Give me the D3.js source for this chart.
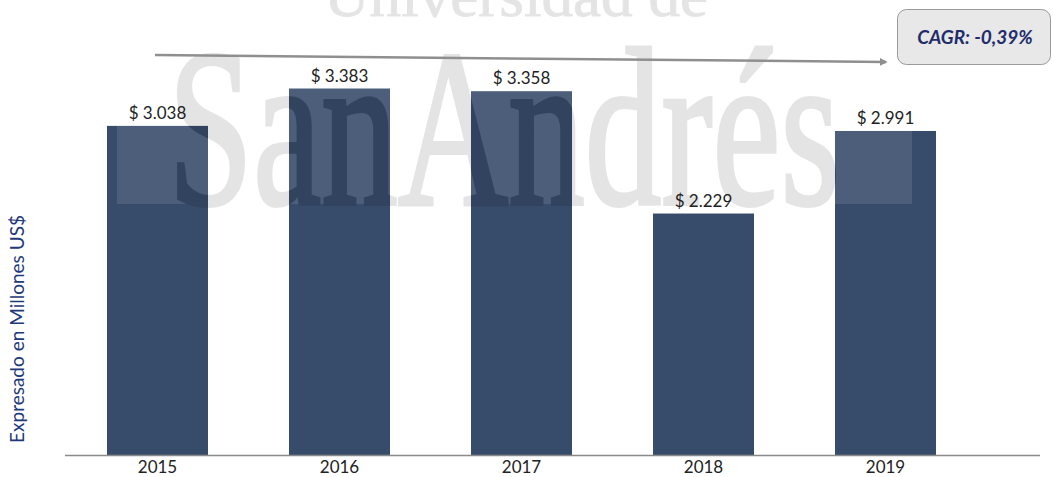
<!DOCTYPE html>
<html>
<head>
<meta charset="utf-8">
<script src="https://cdn.jsdelivr.net/npm/d3@7"></script>
<style>
    body { margin: 0; background: #fff; }
    svg { display: block; font-family: Lato, "Open Sans", sans-serif; }
</style>
</head>
<body>
<svg id="chart" width="1053" height="477"></svg>
<script>
// chart data
var years = ['2015', '2016', '2017', '2018', '2019'];
var values = [3038, 3383, 3358, 2229, 2991];
var valueLabels = ['$ 3.038', '$ 3.383', '$ 3.358', '$ 2.229', '$ 2.991'];
var cagrLabel = 'CAGR: -0,39%';
var yTitle = 'Expresado en Millones US$';

var svg = d3.select('#chart');
var baseY = 455;

var x = d3.scaleBand()
    .domain(years)
    .range([66.5, 976.5])
    .paddingInner(0.445)
    .paddingOuter(0.2225);

var y = d3.scaleLinear()
    .domain([0, 4200])
    .range([baseY, 0]);

var barColor = '#374c6b';
var defs = svg.append('defs');

// bars
svg.append('g').selectAll('rect')
    .data(values)
    .enter().append('rect')
    .attr('x', function (d, i) { return x(years[i]); })
    .attr('y', function (d) { return y(d); })
    .attr('width', x.bandwidth())
    .attr('height', function (d) { return baseY - y(d); })
    .attr('fill', barColor);

// watermark (lightening box with letters cut out, then faint letters)
function wmBig(sel) {
    sel.append('text')
        .attr('x', 168).attr('y', 204)
        .attr('font-family', '"Liberation Serif", serif')
        .attr('font-size', 225)
        .attr('textLength', 672)
        .attr('lengthAdjust', 'spacingAndGlyphs')
        .attr('stroke-width', 4)
        .text('SanAndrés');
}
var mask = defs.append('mask').attr('id', 'wm-mask');
mask.append('rect').attr('x', 0).attr('y', 0).attr('width', 1053).attr('height', 477).attr('fill', '#fff');
wmBig(mask.append('g').attr('fill', '#000').attr('stroke', '#000'));

svg.append('rect')
    .attr('x', 117).attr('y', 0)
    .attr('width', 795).attr('height', 204)
    .attr('fill', '#fff')
    .attr('opacity', 0.1)
    .attr('mask', 'url(#wm-mask)');

var wm = svg.append('g')
    .attr('font-family', '"Liberation Serif", serif')
    .attr('fill', '#000')
    .attr('stroke', '#000')
    .attr('opacity', 0.1);
wm.append('text')
    .attr('x', 324).attr('y', 16)
    .attr('font-size', 62)
    .attr('textLength', 384)
    .attr('lengthAdjust', 'spacingAndGlyphs')
    .attr('stroke-width', 1)
    .text('Universidad de');
wmBig(wm);

// value labels
svg.append('g').selectAll('text')
    .data(values)
    .enter().append('text')
    .attr('x', function (d, i) { return x(years[i]) + x.bandwidth() / 2; })
    .attr('y', function (d) { return y(d) - 7; })
    .attr('text-anchor', 'middle')
    .attr('font-size', 17)
    .attr('fill', '#222')
    .text(function (d, i) { return valueLabels[i]; });

// x axis
var xAxis = svg.append('g')
    .attr('transform', 'translate(0,' + baseY + ')')
    .call(d3.axisBottom(x).tickSize(0).tickPadding(6));
xAxis.select('.domain').remove();
xAxis.selectAll('text')
    .attr('font-size', 17)
    .attr('font-family', 'Lato, sans-serif')
    .attr('fill', '#222');
svg.append('line')
    .attr('x1', 65).attr('x2', 1040)
    .attr('y1', baseY + 0.5).attr('y2', baseY + 0.5)
    .attr('stroke', '#8a8a8a')
    .attr('stroke-width', 1.5);

// y title
svg.append('text')
    .attr('transform', 'translate(24,329) rotate(-90)')
    .attr('text-anchor', 'middle')
    .attr('font-size', 19)
    .attr('fill', '#1f3a7a')
    .text(yTitle);

// trend arrow
defs.append('marker')
    .attr('id', 'arrow')
    .attr('viewBox', '0 0 10 10')
    .attr('refX', 8).attr('refY', 5)
    .attr('markerWidth', 3.2).attr('markerHeight', 3.2)
    .attr('orient', 'auto')
    .append('path')
    .attr('d', 'M0,0L10,5L0,10z')
    .attr('fill', '#8f8f8f');

svg.append('line')
    .attr('x1', 155).attr('y1', 55)
    .attr('x2', 886).attr('y2', 62)
    .attr('stroke', '#8f8f8f')
    .attr('stroke-width', 2.5)
    .attr('marker-end', 'url(#arrow)');

// CAGR box
svg.append('rect')
    .attr('x', 897.5).attr('y', 9.5)
    .attr('width', 153).attr('height', 55)
    .attr('rx', 9)
    .attr('fill', '#e8e8e8')
    .attr('stroke', '#9a9a9a')
    .attr('stroke-width', 1);
svg.append('text')
    .attr('x', 975).attr('y', 44)
    .attr('text-anchor', 'middle')
    .attr('font-size', 19)
    .attr('font-weight', 'bold')
    .attr('font-style', 'italic')
    .attr('fill', '#1f2d6b')
    .text(cagrLabel);
</script>
</body>
</html>
